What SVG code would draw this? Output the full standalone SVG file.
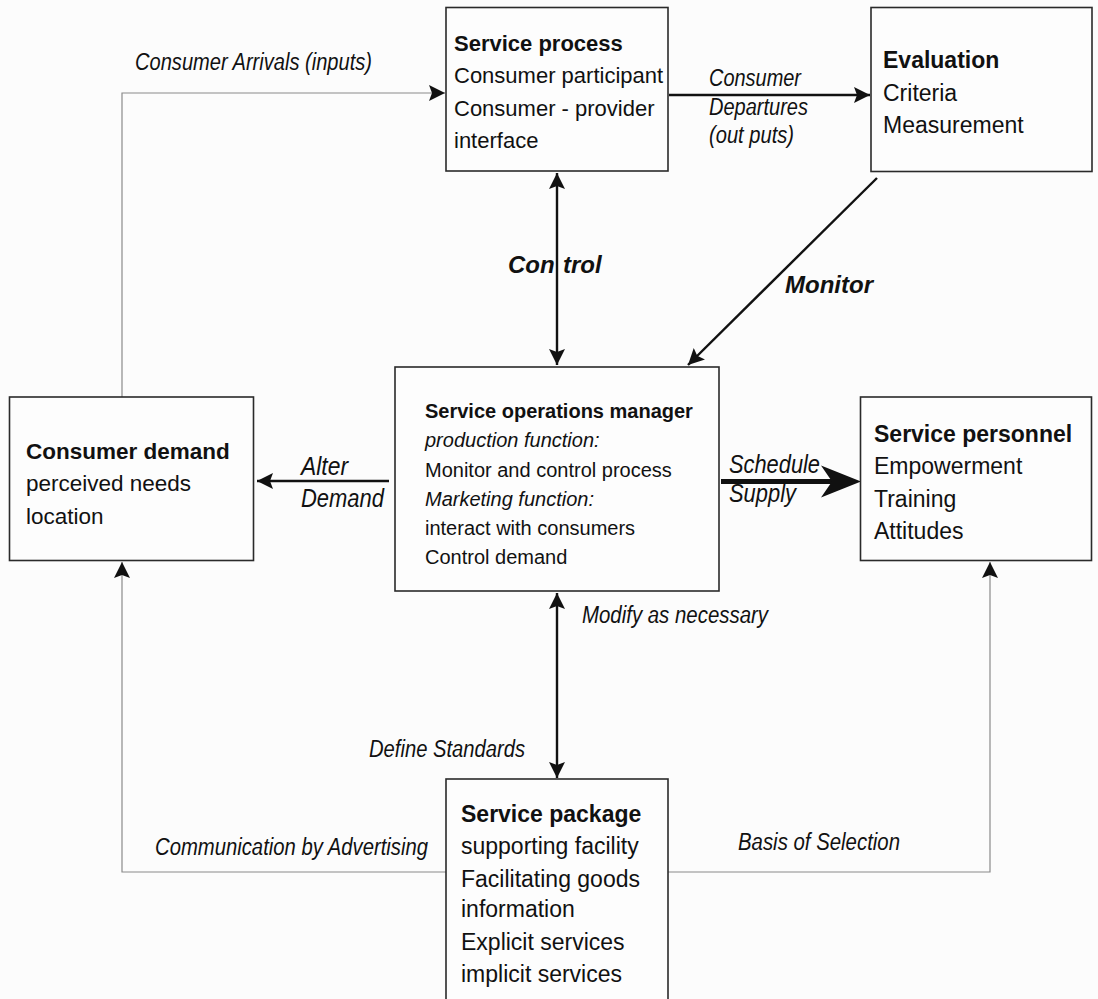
<svg xmlns="http://www.w3.org/2000/svg" width="1098" height="999" viewBox="0 0 1098 999">
  <defs>
    <style>
      .box { fill: #fdfdfd; stroke: #2a2a2a; stroke-width: 1.6; }
      .t { font-family: "Liberation Sans", Arial, sans-serif; fill: #111; }
      .b { font-weight: bold; }
      .i { font-style: italic; }
      .lbl { font-family: "Liberation Sans", Arial, sans-serif; font-style: italic; font-size: 23px; fill: #111; }
      .lbl2 { font-family: "Liberation Sans", Arial, sans-serif; font-style: italic; font-size: 25px; fill: #111; }
      .big { font-family: "Liberation Sans", Arial, sans-serif; font-style: italic; font-weight: bold; font-size: 24px; fill: #111; }
      .feed { fill: none; stroke: #8a8a8a; stroke-width: 1.2; }
      .main { fill: none; stroke: #111; stroke-width: 2.4; }
    </style>
    <marker id="head" viewBox="0 0 16 16" refX="16" refY="8" markerWidth="16" markerHeight="16" markerUnits="userSpaceOnUse" orient="auto-start-reverse">
      <path d="M0,0 L16,8 L0,16 L3,8 z" fill="#111"/>
    </marker>
  </defs>

  <rect x="0" y="0" width="1098" height="999" fill="#fcfcfc"/>

  <!-- connectors -->
  <g id="connectors">
    <!-- consumer arrivals: demand up and across into the process -->
    <polyline class="feed" points="122,397 122,93 445,93" marker-end="url(#head)"/>
    <!-- departures to evaluation -->
    <line class="main" x1="669" y1="95" x2="870" y2="95" marker-end="url(#head)"/>
    <!-- control (two-way) -->
    <line class="main" x1="557" y1="173" x2="557" y2="365" marker-start="url(#head)" marker-end="url(#head)"/>
    <!-- monitor -->
    <line class="main" x1="877" y1="178" x2="688" y2="365" marker-end="url(#head)"/>
    <!-- alter demand -->
    <line class="main" x1="389" y1="481" x2="257" y2="481" marker-end="url(#head)"/>
    <!-- schedule supply (heavy) -->
    <line x1="721" y1="481.5" x2="835" y2="481.5" stroke="#111" stroke-width="5"/>
    <path d="M861,481.5 L821,465.5 L832,481.5 L821,497.5 z" fill="#111"/>
    <!-- modify / define standards (two-way) -->
    <line class="main" x1="557" y1="593" x2="557" y2="778" marker-start="url(#head)" marker-end="url(#head)"/>
    <!-- communication by advertising -->
    <polyline class="feed" points="446,872 122,872 122,562" marker-end="url(#head)"/>
    <!-- basis of selection -->
    <polyline class="feed" points="668,872 990,872 990,562" marker-end="url(#head)"/>
  </g>

  <!-- connector labels (narrow italic: glyphs fitted to fixed run widths) -->
  <g id="labels">
    <text class="lbl" x="135" y="70" textLength="237" lengthAdjust="spacingAndGlyphs">Consumer Arrivals (inputs)</text>
    <text class="lbl" x="709" y="86" textLength="92" lengthAdjust="spacingAndGlyphs">Consumer</text>
    <text class="lbl" x="709" y="115" textLength="99" lengthAdjust="spacingAndGlyphs">Departures</text>
    <text class="lbl" x="709" y="143" textLength="85" lengthAdjust="spacingAndGlyphs">(out puts)</text>
    <text class="big" x="508" y="273">Con<tspan x="563">trol</tspan></text>
    <text class="big" x="785" y="293">Monitor</text>
    <text class="lbl2" x="301" y="475" textLength="47" lengthAdjust="spacingAndGlyphs">Alter</text>
    <text class="lbl2" x="301" y="507" textLength="83" lengthAdjust="spacingAndGlyphs">Demand</text>
    <text class="lbl2" x="729" y="473" textLength="91" lengthAdjust="spacingAndGlyphs">Schedule</text>
    <text class="lbl2" x="729" y="502" textLength="67" lengthAdjust="spacingAndGlyphs">Supply</text>
    <text class="lbl" x="582" y="623" textLength="186" lengthAdjust="spacingAndGlyphs">Modify as necessary</text>
    <text class="lbl" x="369" y="757" textLength="156" lengthAdjust="spacingAndGlyphs">Define Standards</text>
    <text class="lbl" x="155" y="855" textLength="273" lengthAdjust="spacingAndGlyphs">Communication by Advertising</text>
    <text class="lbl" x="738" y="850" textLength="162" lengthAdjust="spacingAndGlyphs">Basis of Selection</text>
  </g>

  <g id="service-process">
    <rect class="box" x="446" y="7.5" width="222" height="163.5"/>
    <text class="t" font-size="22" x="454" y="51"><tspan class="b">Service process</tspan><tspan x="454" y="83">Consumer participant</tspan><tspan x="454" y="115.5">Consumer - provider</tspan><tspan x="454" y="147.5">interface</tspan></text>
  </g>

  <g id="evaluation">
    <rect class="box" x="871" y="7.5" width="221" height="164"/>
    <text class="t" font-size="23" x="883" y="68"><tspan class="b">Evaluation</tspan><tspan x="883" y="101">Criteria</tspan><tspan x="883" y="133">Measurement</tspan></text>
  </g>

  <g id="consumer-demand">
    <rect class="box" x="9.5" y="397" width="244" height="163.5"/>
    <text class="t" font-size="22.5" x="26" y="459"><tspan class="b">Consumer demand</tspan><tspan x="26" y="491">perceived needs</tspan><tspan x="26" y="524">location</tspan></text>
  </g>

  <g id="service-operations-manager">
    <rect class="box" x="395" y="367" width="324" height="224"/>
    <text class="t" font-size="20" x="425" y="418"><tspan class="b">Service operations manager</tspan><tspan class="i" x="425" y="447">production function:</tspan><tspan x="425" y="477">Monitor and control process</tspan><tspan class="i" x="425" y="506">Marketing function:</tspan><tspan x="425" y="535">interact with consumers</tspan><tspan x="425" y="564">Control demand</tspan></text>
  </g>

  <g id="service-personnel">
    <rect class="box" x="860.5" y="397" width="231" height="163.5"/>
    <text class="t" font-size="23" x="874" y="442"><tspan class="b">Service personnel</tspan><tspan x="874" y="474">Empowerment</tspan><tspan x="874" y="507">Training</tspan><tspan x="874" y="539">Attitudes</tspan></text>
  </g>

  <g id="service-package">
    <rect class="box" x="446" y="779" width="222" height="230"/>
    <text class="t" font-size="23" x="461" y="822"><tspan class="b">Service package</tspan><tspan x="461" y="854">supporting facility</tspan><tspan x="461" y="887">Facilitating goods</tspan><tspan x="461" y="917">information</tspan><tspan x="461" y="950">Explicit services</tspan><tspan x="461" y="982">implicit services</tspan></text>
  </g>
</svg>
